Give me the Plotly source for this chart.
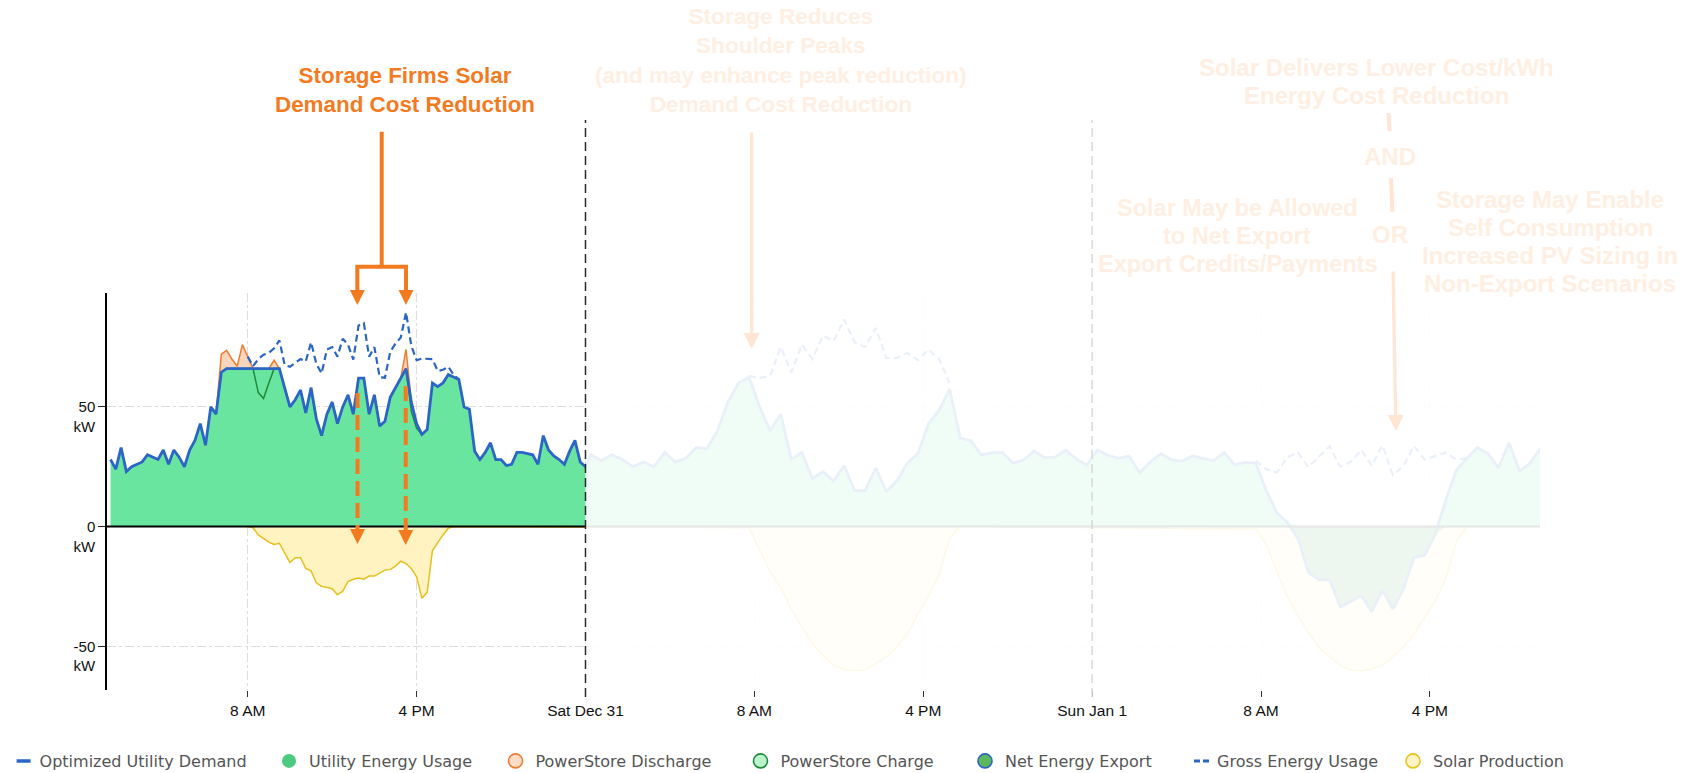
import numpy as np
import pandas as pd
import plotly.graph_objects as go

# ---------------- data ----------------
# Day 1 (Fri Dec 30 2016): 15-minute readings, 01:30 -> 24:00 (kW)
day1_times = pd.date_range("2016-12-30 01:30", "2016-12-31 00:00", freq="15min")
demand_day1 = [
    28, 24, 33, 23, 25, 26, 27, 30, 29, 28,
    32, 26, 32, 29, 25, 32, 36, 43, 34, 50,
    47, 64.5, 66, 66, 66, 66, 66, 66, 66, 66,
    66, 66, 66, 58, 50, 53, 57, 47.5, 58, 45,
    38, 47, 52, 43, 50, 55, 47, 62, 62, 47,
    55, 42, 44, 54, 58, 62, 66, 52, 43, 38.5,
    40.5, 60, 58.5, 60, 63.5, 62.5, 61.5, 50, 49, 31.5,
    28, 31, 35, 28, 28, 25.5, 26, 31, 31, 30.5,
    30, 26, 38, 32, 29.5, 28, 26, 31.5, 36, 27,
    25,
]
# Days 2-3 (Dec 31 / Jan 1): 30-minute readings, 00:15 Dec 31 -> 21:15 Jan 1 (kW)
rest_times = pd.date_range("2016-12-31 00:15", "2017-01-01 21:15", freq="30min")
demand_rest = [
    30, 27.5, 30, 28, 25, 27, 25, 31, 27, 28.5,
    33, 32.5, 40, 52, 60, 62.5, 50, 40, 47, 28,
    31, 20, 23, 19, 25.5, 15, 15, 24.5, 14.6, 19,
    26.5, 30.6, 43, 48.5, 57.5, 37, 36, 30, 30.8, 31,
    26.5, 27.8, 31.6, 28.8, 29, 32, 28.3, 25.6,
    32, 29.8, 28.5, 29.5, 22.5, 27, 30.5, 28, 27.3, 29.5,
    28.5, 27.5, 31, 25.8, 26.8, 26.5, 15, 5.7, 1.7, -5,
    -19.3, -22.3, -22.2, -33.5, -31.3, -28.8, -35.6, -26.5, -34.5, -26,
    -13, -12, -3.5, 11, 23.5, 28.5, 33, 30.5, 24.5, 35,
    23.2, 26.5, 32.8,
]

# Solar production (negative kW)
solar_day1_times = pd.date_range("2016-12-30 08:00", "2016-12-30 17:45", freq="15min")
solar_day1 = [
    0, -0.5, -3.5, -5, -6.5, -7.5, -7, -11, -15, -13,
    -13, -17.5, -18.5, -23.5, -25, -25.5, -26, -28.5, -27, -23,
    -22, -21.5, -22, -20.7, -20.7, -19.5, -18.2, -18, -16.5, -14.5,
    -15.5, -17.5, -21, -30, -27.5, -10, -6.5, -3.5, -0.7, 0,
]
solar_dec31_times = pd.date_range("2016-12-31 07:45", "2016-12-31 17:45", freq="30min")
solar_dec31 = [-0.5, -10, -19, -25.5, -34.5, -42, -49, -54, -58, -59.7, -60.3,
               -59.7, -57.3, -54.5, -50.3, -45, -36.5, -29, -20, -5, 0]
solar_jan1_times = pd.date_range("2017-01-01 07:45", "2017-01-01 17:45", freq="30min")
solar_jan1 = [-1, -7.5, -18.5, -29.5, -37.2, -44.3, -50.6, -54.5, -58, -60.1, -60.3,
              -59.6, -58, -54.5, -50.3, -45, -38.3, -31.2, -21.8, -6.5, 0]

# Gross energy usage (where it departs from the optimized demand)
gross_day1_times = pd.date_range("2016-12-30 08:00", "2016-12-30 18:00", freq="15min")
gross_day1 = [
    71, 67, 70, 71.8, 72.6, 74.5, 77.8, 67.5, 66.8, 68.5,
    70, 69, 77, 68, 64, 74, 75, 71, 78.5, 76,
    69.8, 84, 85, 71, 75, 62.4, 62.2, 73, 76.5, 79,
    89.5, 75.5, 69.5, 70.2, 70, 70, 65, 65.5, 66.8, 63.5,
    61.5,
]
gross_dec31_times = pd.date_range("2016-12-31 07:45", "2016-12-31 17:15", freq="30min")
gross_dec31 = [63, 62, 63, 75, 64.5, 76, 70, 79.8, 77.5, 86.5,
               77, 75, 83, 70.5, 70.5, 72.5, 69.5, 74, 70, 60]
gross_jan1_times = pd.date_range("2017-01-01 07:45", "2017-01-01 17:45", freq="30min")
gross_jan1 = [27.5, 24, 22.5, 29, 31, 24.8, 29.3, 33.5, 25.1, 27,
              32, 25.4, 34, 21.5, 25.4, 33.7, 28, 29.5, 31, 28, 28.5]

# PowerStore dispatch on day 1 (kW), 06:30 -> 16:15
storage_times = pd.date_range("2016-12-30 06:30", "2016-12-30 16:15", freq="15min")
discharge_kw = [
    0, 7.5, 7.6, 4, 1, 10, 5, 0, 0, 0,
    0, 3.5, 0, 0, 0, 0, 0, 0, 0, 0,
    0, 0, 0, 0, 0, 0, 0, 0, 0, 0,
    0, 0, 0, 0, 0, 0, 8, 0, 0, 0,
]
charge_kw = [
    0, 0, 0, 0, 0, 0, 0, 0, 10, 12.5,
    6, 0, 0, 0, 0, 0, 0, 0, 0, 0,
    0, 0, 0, 0, 0, 0, 0, 0, 0, 0,
    0, 0, 0, 0, 0, 0, 0, 4, 2, 0,
]

x_tick_vals = ["2016-12-30 08:00", "2016-12-30 16:00", "2016-12-31 00:00",
               "2016-12-31 08:00", "2016-12-31 16:00", "2017-01-01 00:00",
               "2017-01-01 08:00", "2017-01-01 16:00"]
x_tick_text = ["8 AM", "4 PM", "Sat Dec 31", "8 AM", "4 PM", "Sun Jan 1", "8 AM", "4 PM"]
y_tick_vals = [-50, 0, 50]
y_tick_text = ["-50<br>kW", "0<br>kW", "50<br>kW"]

legend_names = ["Optimized Utility Demand", "Utility Energy Usage", "PowerStore Discharge",
                "PowerStore Charge", "Net Energy Export", "Gross Energy Usage", "Solar Production"]

# ---------------- derived series ----------------
times_all = list(day1_times) + list(rest_times)
demand_all = np.array(demand_day1 + demand_rest, dtype=float)
usage_pos = np.clip(demand_all, 0, None)
export_neg = np.clip(demand_all, None, 0)

solar_x = list(solar_day1_times) + list(solar_dec31_times) + list(solar_jan1_times)
solar_y = solar_day1 + solar_dec31 + solar_jan1

gross_x = list(gross_day1_times) + [None] + list(gross_dec31_times) + [None] + list(gross_jan1_times)
gross_y = gross_day1 + [None] + gross_dec31 + [None] + gross_jan1

demand_s = pd.Series(demand_day1, index=day1_times)
store_base = demand_s.loc[storage_times].values
store_top = store_base + np.array(discharge_kw)
charge_line = store_base - np.array(charge_kw)

# ---------------- styling ----------------
W, H = 1683, 773
L, R, T, B = 107, 1540, 293, 690
PW, PH = R - L, B - T


def px(x):
    return (x - L) / PW


def py(y):
    return (B - y) / PH


BLUE = "#2B66C6"
GREEN = "#6AE5A0"
ORANGE = "#F47A1F"
FADE_TXT = "#FFEFE2"
FADE_ARW = "#FFE5D4"
TXT_FONT = "Liberation Sans, Arial, sans-serif"

fig = go.Figure()

fig.add_trace(go.Scatter(x=solar_x, y=solar_y, mode="lines", fill="tozeroy",
                         fillcolor="#FFF3C2", line=dict(color="#E6C01E", width=1.5),
                         showlegend=False, hoverinfo="skip"))
fig.add_trace(go.Scatter(x=times_all, y=usage_pos, mode="lines", fill="tozeroy",
                         fillcolor=GREEN, line=dict(width=0, color=GREEN),
                         showlegend=False, hoverinfo="skip"))
fig.add_trace(go.Scatter(x=times_all, y=export_neg, mode="lines", fill="tozeroy",
                         fillcolor="#4FAE62", line=dict(width=0, color="#4FAE62"),
                         showlegend=False, hoverinfo="skip"))
fig.add_trace(go.Scatter(x=storage_times, y=store_base, mode="lines",
                         line=dict(width=0, color="rgba(0,0,0,0)"),
                         showlegend=False, hoverinfo="skip"))
fig.add_trace(go.Scatter(x=storage_times, y=store_top, mode="lines", fill="tonexty",
                         fillcolor="#FAD5BE", line=dict(color="#F07B30", width=1.5),
                         showlegend=False, hoverinfo="skip"))
fig.add_trace(go.Scatter(x=storage_times, y=charge_line, mode="lines",
                         line=dict(color="#1E8A3A", width=1.5),
                         showlegend=False, hoverinfo="skip"))
fig.add_trace(go.Scatter(x=gross_x, y=gross_y, mode="lines", connectgaps=False,
                         line=dict(color=BLUE, width=2.2, dash="7px,4px"),
                         showlegend=False, hoverinfo="skip"))
fig.add_trace(go.Scatter(x=times_all, y=demand_all, mode="lines",
                         line=dict(color=BLUE, width=2.8),
                         showlegend=False, hoverinfo="skip"))

# legend-only entries, one legend each so they sit where the reference has them
legend_text_x = [39.6, 309, 535.5, 780.5, 1005, 1217, 1433]
legend_markers = [
    dict(mode="lines", line=dict(color=BLUE, width=3.5, dash="0px,12px,14px,100px")),
    dict(mode="markers", marker=dict(symbol="circle", size=14, color="#4CCB80", line=dict(width=0))),
    dict(mode="markers", marker=dict(symbol="circle", size=14, color="#FCDCC6", line=dict(width=1.6, color="#F07B35"))),
    dict(mode="markers", marker=dict(symbol="circle", size=14, color="#B9F2CB", line=dict(width=1.6, color="#1F8A3B"))),
    dict(mode="markers", marker=dict(symbol="circle", size=14, color="#5CB85C", line=dict(width=1.6, color=BLUE))),
    dict(mode="lines", line=dict(color=BLUE, width=3, dash="0px,12px,6px,3px,6px,100px")),
    dict(mode="markers", marker=dict(symbol="circle", size=14, color="#FFF4C4", line=dict(width=1.6, color="#E8C21C"))),
]
legend_layouts = {}
for i, (name, spec, tx) in enumerate(zip(legend_names, legend_markers, legend_text_x)):
    key = "legend" if i == 0 else f"legend{i + 1}"
    fig.add_trace(go.Scatter(x=[None], y=[None], name=name, legend=key, showlegend=True, **spec))
    legend_layouts[key] = dict(x=px(tx - 40), y=py(761), xanchor="left", yanchor="middle",
                               orientation="h", bgcolor="rgba(0,0,0,0)",
                               font=dict(family="DejaVu Sans, Verdana, sans-serif", size=16, color="#555555"))

x0 = pd.Timestamp("2016-12-30 01:20")
x1 = pd.Timestamp("2017-01-01 21:13")
dec31 = pd.Timestamp("2016-12-31 00:00")
jan1 = pd.Timestamp("2017-01-01 00:00")

shapes = [
    dict(type="line", xref="x", yref="y", x0=x0, x1=x1, y0=0, y1=0,
         line=dict(color="black", width=2), layer="above"),
    dict(type="rect", xref="x", yref="paper", x0=dec31, x1=x1, y0=0, y1=1,
         fillcolor="white", opacity=0.9, line=dict(width=0), layer="above"),
    dict(type="line", xref="x", yref="paper", x0=dec31, x1=dec31, y0=py(697), y1=py(120),
         line=dict(color="#2a2a2a", width=1.5, dash="9px,5px"), layer="above"),
    dict(type="line", xref="x", yref="paper", x0=jan1, x1=jan1, y0=py(697), y1=py(120),
         line=dict(color="#d8d8d8", width=1.5, dash="9px,5px"), layer="above"),
    # bracket of the first callout
    dict(type="line", xref="paper", yref="paper", x0=px(381.7), x1=px(381.7), y0=py(131.7), y1=py(266.7),
         line=dict(color=ORANGE, width=4), layer="above"),
    dict(type="line", xref="paper", yref="paper", x0=px(355.3), x1=px(408), y0=py(266.7), y1=py(266.7),
         line=dict(color=ORANGE, width=4), layer="above"),
    dict(type="line", xref="paper", yref="paper", x0=px(357.5), x1=px(357.5), y0=py(393), y1=py(531),
         line=dict(color=ORANGE, width=4, dash="15px,7px"), layer="above"),
    dict(type="line", xref="paper", yref="paper", x0=px(405.7), x1=px(405.7), y0=py(386), y1=py(532),
         line=dict(color=ORANGE, width=4, dash="15px,7px"), layer="above"),
    # connector strokes of the right-hand callout
    dict(type="line", xref="paper", yref="paper", x0=px(1388.5), x1=px(1389.5), y0=py(113), y1=py(131),
         line=dict(color=FADE_ARW, width=4), layer="above"),
    dict(type="line", xref="paper", yref="paper", x0=px(1391), x1=px(1392.5), y0=py(178), y1=py(212),
         line=dict(color=FADE_ARW, width=4), layer="above"),
]


def arrow(tip_x, tip_y, tail_x, tail_y, color, width, size):
    return dict(x=px(tip_x), y=py(tip_y), xref="paper", yref="paper",
                ax=tail_x - tip_x, ay=tail_y - tip_y, axref="pixel", ayref="pixel",
                text="", showarrow=True, arrowhead=2, arrowsize=size, arrowwidth=width,
                arrowcolor=color, standoff=0)


def label(cx, cy, lines, color, size):
    return dict(x=px(cx), y=py(cy), xref="paper", yref="paper", showarrow=False,
                text="<br>".join(f"<b>{s}</b>" for s in lines), align="center",
                xanchor="center", yanchor="middle",
                font=dict(family=TXT_FONT, size=size, color=color))


def stacked(cx, first_cy, step, lines, color, size):
    return [label(cx, first_cy + k * step, [s], color, size) for k, s in enumerate(lines)]


annotations = [
    arrow(357.3, 305, 357.3, 266.7, ORANGE, 4, 0.75),
    arrow(406, 305, 406, 266.7, ORANGE, 4, 0.75),
    arrow(357.5, 544, 357.5, 529, ORANGE, 4, 0.75),
    arrow(405.7, 545, 405.7, 530, ORANGE, 4, 0.75),
    arrow(751.7, 349, 751.7, 131, FADE_ARW, 3.3, 0.97),
    arrow(1396, 431, 1393, 270, FADE_ARW, 3.3, 0.97),
    label(404.5, 89.5, ["Storage Firms Solar", "Demand Cost Reduction"], ORANGE, 22.4),
    label(781, 60.6, ["Storage Reduces", "Shoulder Peaks", "(and may enhance peak reduction)",
                      "Demand Cost Reduction"], FADE_TXT, 22.6),
    label(1390, 156.7, ["AND"], FADE_TXT, 24),
    label(1390, 234.5, ["OR"], FADE_TXT, 24),
]
annotations += stacked(1376, 67.8, 28, ["Solar Delivers Lower Cost/kWh", "Energy Cost Reduction"], FADE_TXT, 24)
annotations += stacked(1237, 208.2, 28, ["Solar May be Allowed", "to Net Export", "Export Credits/Payments"],
                       FADE_TXT, 23.5)
annotations += stacked(1550, 199.6, 28, ["Storage May Enable", "Self Consumption", "Increased PV Sizing in",
                                         "Non-Export Scenarios"], FADE_TXT, 24)

fig.update_layout(
    width=W, height=H,
    margin=dict(l=L, r=W - R, t=T, b=H - B, pad=0, autoexpand=False),
    paper_bgcolor="white", plot_bgcolor="white",
    shapes=shapes, annotations=annotations,
    hovermode=False,
    xaxis=dict(type="date", range=[x0, x1], tickmode="array", tickvals=x_tick_vals,
               ticktext=x_tick_text, ticks="outside", ticklen=6, tickwidth=1, tickcolor="#333",
               showgrid=True, gridcolor="#dddddd", griddash="dashdot", gridwidth=1,
               showline=False, zeroline=False,
               tickfont=dict(family=TXT_FONT, size=15.5, color="#111")),
    yaxis=dict(range=[-68.3, 97.6], tickmode="array", tickvals=y_tick_vals, ticktext=y_tick_text,
               ticks="outside", ticklen=7, tickwidth=1, tickcolor="#222",
               showline=True, linecolor="black", linewidth=1.5,
               showgrid=True, gridcolor="#dddddd", griddash="dashdot", gridwidth=1,
               zeroline=False, ticklabelshift=10,
               tickfont=dict(family=TXT_FONT, size=15, color="#111")),
    **legend_layouts,
)

fig.write_html("out.html", config={"displayModeBar": False},
               post_script="document.body.style.margin='0';document.body.style.padding='0';")
